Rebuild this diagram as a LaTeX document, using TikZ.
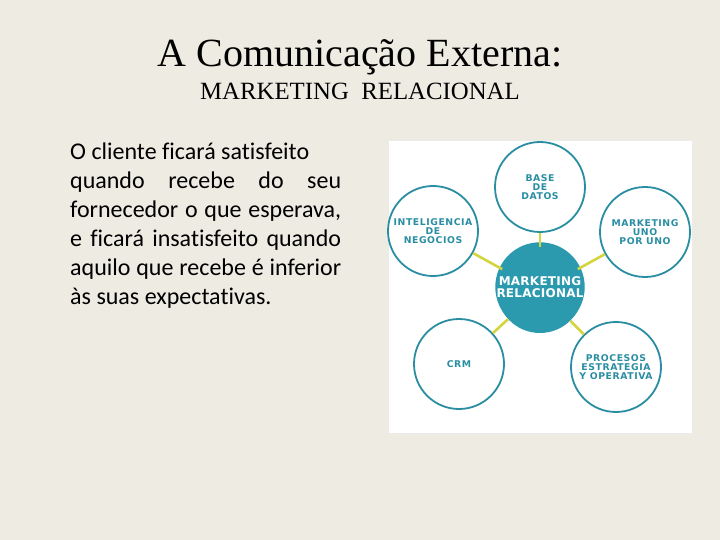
\documentclass[tikz,border=0pt]{standalone}
\usepackage{fontspec}
\setmainfont{Liberation Serif}
\newfontfamily\bodyfont[Ligatures=NoCommon]{Carlito}
\newfontfamily\diafont{DejaVu Sans}
\definecolor{bg}{HTML}{EEEBE3}
\definecolor{teal}{HTML}{2B9AAE}
\definecolor{tealline}{HTML}{2A8EA2}
\definecolor{ylw}{HTML}{D4D43E}
\tikzset{
  outer/.style={circle, draw=tealline, line width=1.8pt, fill=white, minimum size=90pt, inner sep=0pt,
    align=center, text=tealline, font=\diafont\bfseries\addfontfeature{LetterSpace=6}\fontsize{9.3}{9}\selectfont},
  hub/.style={circle, fill=teal, minimum size=86pt, inner sep=0pt, align=center, text=white,
    font=\diafont\bfseries\addfontfeature{LetterSpace=2}\fontsize{12}{12.5}\selectfont},
  link/.style={draw=ylw, line width=2.6pt}
}
\begin{document}
\begin{tikzpicture}[x=1pt,y=-1pt]
\fill[bg] (0,0) rectangle (720,540);
\useasboundingbox (0,0) rectangle (720,540);
\node[font=\fontsize{40}{44}\selectfont, anchor=base] (title) at (360,67) {A Comunicação Externa:};
\node[font=\fontsize{24.8}{28}\selectfont, anchor=base] (sub) at (360,100) {MARKETING\ \ RELACIONAL};
\node[anchor=north west, inner sep=0pt, text width=271pt, align=justify,
  font=\bodyfont\fontsize{24}{29}\selectfont] (body) at (70,143)
  {O cliente ficará satisfeito\newline quando recebe do seu\linebreak fornecedor o que esperava,\linebreak e ficará insatisfeito quando\linebreak aquilo que recebe é inferior\linebreak às suas expectativas.};
\node[draw=black!8, fill=white, minimum width=304pt, minimum height=293pt, inner sep=0pt, anchor=north west] (panel) at (388,140) {};
\node[hub] (c) at (540,290) {};
\node[hub, minimum size=0pt] (ct) at (540,287) {MARKETING\\RELACIONAL};
\node[outer] (n1) at (540,187) {BASE\\DE\\DATOS};
\node[outer] (n2) at (433,231) {INTELIGENCIA\\DE\\NEGOCIOS};
\node[outer] (n3) at (645,232) {MARKETING\\UNO\\POR UNO};
\node[outer] (n4) at (459,364) {CRM};
\node[outer] (n5) at (616,367) {PROCESOS\\ESTRATEGIA\\Y OPERATIVA};
\foreach \n in {n1,n2,n3,n4,n5} \draw[link] (c) -- (\n);
\end{tikzpicture}
\end{document}
